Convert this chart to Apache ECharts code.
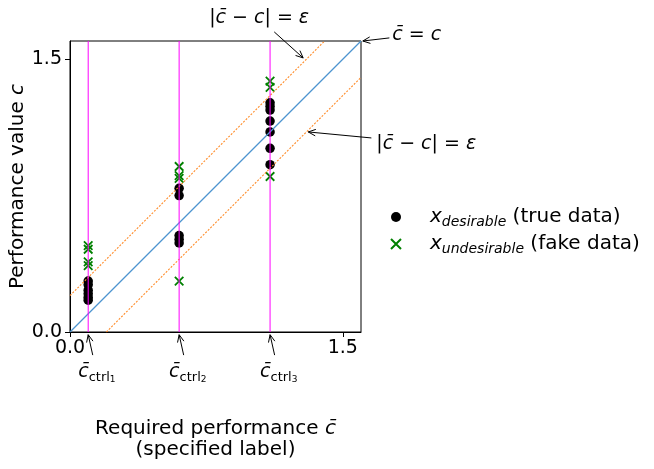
<!DOCTYPE html>
<html><head><meta charset="utf-8">
<script src="https://cdn.jsdelivr.net/npm/echarts@6/dist/echarts.min.js"></script>
<style>html,body{margin:0;padding:0;background:#fff}#c{width:654px;height:469px}</style>
</head><body><div id="c"></div>
<script>
// ---- data ----
const ctrlValues = [0.1, 0.6, 1.1];
const ctrlIndices = ['1', '2', '3'];
const desirableX = [0.1, 0.1, 0.1, 0.1, 0.1, 0.1, 0.6, 0.6, 0.6, 0.6, 0.6, 1.1, 1.1, 1.1, 1.1, 1.1, 1.1, 1.1];
const desirableY = [0.28, 0.26, 0.23, 0.21, 0.19, 0.175, 0.79, 0.75, 0.53, 0.51, 0.49, 1.26, 1.24, 1.22, 1.16, 1.10, 1.01, 0.92];
const undesirableX = [0.1, 0.1, 0.1, 0.1, 0.6, 0.6, 0.6, 0.6, 1.1, 1.1, 1.1];
const undesirableY = [0.475, 0.455, 0.385, 0.365, 0.91, 0.86, 0.845, 0.28, 1.38, 1.345, 0.855];
const axisMin = 0, axisMax = 1.6;
const tickValues = [0, 1.5];
const epsilon = 0.2;

const FONT = 'DejaVu Sans';
const chart = echarts.init(document.getElementById('c'), null, {renderer: 'canvas'});

const desirable = desirableX.map((x, i) => [x, desirableY[i]]);
const undesirable = undesirableX.map((x, i) => [x, undesirableY[i]]);

function lineSeries(data, lineStyle) {
  return {type: 'line', data, symbol: 'none', silent: true, z: 3, lineStyle,
    itemStyle: {color: lineStyle.color}, emphasis: {disabled: true}, animation: false};
}

const series = [
  {name: 'desirable', type: 'scatter', data: desirable, symbol: 'circle', symbolSize: 9.5,
   itemStyle: {color: '#000', opacity: 1}, z: 2},
  {name: 'undesirable', type: 'scatter', data: undesirable, symbol: 'path://M0,0L10,10M10,0L0,10', symbolSize: 8.5,
   itemStyle: {color: 'rgba(0,0,0,0)', borderColor: '#008000', borderWidth: 1.8, opacity: 1}, z: 2},
  lineSeries([[axisMin, axisMin], [axisMax, axisMax]], {color: '#4d94d0', width: 1.2}),
  lineSeries([[axisMin, axisMin + epsilon], [axisMax - epsilon, axisMax]], {color: '#ff8c2a', width: 1.1, type: [2, 1.5]}),
  lineSeries([[axisMin + epsilon, axisMin], [axisMax, axisMax - epsilon]], {color: '#ff8c2a', width: 1.1, type: [2, 1.5]})
];
ctrlValues.forEach(c => series.push(lineSeries([[c, axisMin], [c, axisMax]], {color: '#ff00ff', width: 1})));

const axisCommon = {
  type: 'value', min: axisMin, max: axisMax,
  axisLine: {show: true, onZero: false, lineStyle: {color: '#000', width: 1}},
  axisTick: {show: true, length: 5, customValues: tickValues, lineStyle: {color: '#000', width: 1}},
  axisLabel: {customValues: tickValues, formatter: v => v.toFixed(1), fontSize: 19, fontFamily: FONT, color: '#000'},
  splitLine: {show: false},
  axisPointer: {show: false},
  nameLocation: 'middle'
};

chart.setOption({
  animation: false,
  backgroundColor: '#fff',
  grid: {left: 70, top: 41, right: 293, bottom: 137, show: true, borderColor: '#000', borderWidth: 1, backgroundColor: 'transparent'},
  xAxis: Object.assign({}, axisCommon, {
    axisLabel: Object.assign({}, axisCommon.axisLabel, {margin: 7}),
    name: '{n|Required performance }{i|c\u0304}\n{n|(specified label)}',
    nameGap: 86,
    nameTextStyle: {fontFamily: FONT, color: '#000', fontSize: 20, lineHeight: 21,
      rich: {n: {fontFamily: FONT, fontSize: 20, lineHeight: 21, color: '#000'},
             i: {fontFamily: FONT, fontSize: 20, lineHeight: 21, fontStyle: 'italic', color: '#000'}}}
  }),
  yAxis: Object.assign({}, axisCommon, {
    axisLabel: Object.assign({}, axisCommon.axisLabel, {margin: 8}),
    name: '{n|Performance value }{i|c}',
    nameGap: 42,
    nameTextStyle: {fontFamily: FONT, color: '#000', fontSize: 20,
      rich: {n: {fontFamily: FONT, fontSize: 20, color: '#000'},
             i: {fontFamily: FONT, fontSize: 20, fontStyle: 'italic', color: '#000'}}}
  }),
  legend: {
    data: ['desirable', 'undesirable'], orient: 'vertical', left: 385, top: 202,
    itemWidth: 10, itemHeight: 10, itemGap: 5, selectedMode: false,
    formatter: name => '{x|x}{s|' + name + '}{n| (' + (name === 'desirable' ? 'true' : 'fake') + ' data)}',
    textStyle: {fontFamily: FONT, color: '#000', fontSize: 20,
      rich: {
        x: {fontFamily: FONT, fontSize: 20, fontStyle: 'italic', color: '#000', lineHeight: 24, verticalAlign: 'middle', padding: [0, 0, 0, 24]},
        s: {fontFamily: FONT, fontSize: 14, fontStyle: 'italic', color: '#000', lineHeight: 16, verticalAlign: 'bottom'},
        n: {fontFamily: FONT, fontSize: 20, color: '#000', lineHeight: 24, verticalAlign: 'middle'}
      }}
  },
  series
});

// ---- annotations ----
const eqEps = '{n||}{i|c\u0304}{n| \u2212 }{i|c}{n|| = }{i|\u03b5}';
const eqC = '{i|c\u0304}{n| = }{i|c}';
const mathRich = {
  n: {fontFamily: FONT, fontSize: 19, color: '#000'},
  i: {fontFamily: FONT, fontSize: 19, fontStyle: 'italic', color: '#000'}
};
const ctrlRich = {
  c: {fontFamily: FONT, fontSize: 19, fontStyle: 'italic', color: '#000', lineHeight: 22, verticalAlign: 'top'},
  s: {fontFamily: FONT, fontSize: 13, color: '#000', lineHeight: 16, verticalAlign: 'bottom'},
  ss: {fontFamily: FONT, fontSize: 9, color: '#000', lineHeight: 8, verticalAlign: 'bottom'}
};
const annotations = [
  {text: eqEps, at: [1.04, 1.727], align: 'center', from: [1.123, 1.650], to: [1.282, 1.507]},
  {text: eqC, at: [1.772, 1.633], align: 'left', from: [1.756, 1.617], to: [1.61, 1.6]},
  {text: eqEps, at: [1.684, 1.036], align: 'left', from: [1.657, 1.067], to: [1.31, 1.10]}
];

const toPx = p => chart.convertToPixel({gridIndex: 0}, p);
function arrow(from, to) {
  const p0 = toPx(from), p1 = toPx(to);
  const ang = Math.atan2(p1[1] - p0[1], p1[0] - p0[0]);
  const L = 8, W = 0.42;
  const h1 = [p1[0] - L * Math.cos(ang - W), p1[1] - L * Math.sin(ang - W)];
  const h2 = [p1[0] - L * Math.cos(ang + W), p1[1] - L * Math.sin(ang + W)];
  return [
    {type: 'line', shape: {x1: p0[0], y1: p0[1], x2: p1[0], y2: p1[1]}, style: {stroke: '#000', lineWidth: 1}, z: 10},
    {type: 'polyline', shape: {points: [h1, p1, h2]}, style: {stroke: '#000', lineWidth: 1, fill: null}, z: 10}
  ];
}
const graphics = [];
annotations.forEach(a => {
  const p = toPx(a.at);
  graphics.push({type: 'text', x: p[0], y: p[1], z: 10,
    style: {text: a.text, rich: mathRich, fontFamily: FONT, fontSize: 19, fill: '#000', align: a.align, verticalAlign: 'middle'}});
  graphics.push(...arrow(a.from, a.to));
});
ctrlValues.forEach((c, i) => {
  graphics.push(...arrow([c + 0.025, -0.127], [c, -0.015]));
  const p = toPx([c - 0.055, -0.228]);
  graphics.push({type: 'text', x: p[0], y: p[1], z: 10,
    style: {text: '{c|c\u0304}{s|ctrl}{ss|' + ctrlIndices[i] + '}', rich: ctrlRich, fontFamily: FONT, fontSize: 19, fill: '#000', align: 'left', verticalAlign: 'middle'}});
});
chart.setOption({graphic: graphics});
</script>
</body></html>
